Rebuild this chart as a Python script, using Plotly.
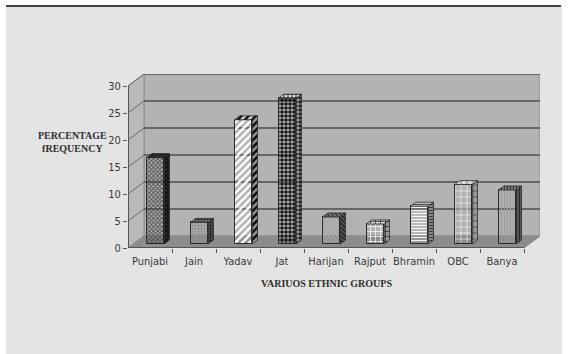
import plotly.graph_objects as go

# ---- data -------------------------------------------------------------
groups = ["Punjabi", "Jain", "Yadav", "Jat", "Harijan", "Rajput", "Bhramin", "OBC", "Banya"]
freq = [16, 4, 23, 27, 5, 3.7, 7, 11, 10]
y_ticks = [0, 5, 10, 15, 20, 25, 30]

# fill pattern per group: (shape, background, foreground, size, solidity)
patterns = [
    ("x", "#4a4a4a", "#111111", 3, 0.5),
    (".", "#8e8e8e", "#3c3c3c", 3, 0.5),
    ("/", "#ffffff", "#0c0c0c", 5, 0.5),
    (".", "#161616", "#ffffff", 4, 0.62),
    ("\\", "#a4a4a4", "#333333", 3, 0.5),
    ("+", "#ffffff", "#2c2c2c", 5, 0.25),
    ("-", "#f2f2f2", "#5c5c5c", 3, 0.4),
    ("+", "#ffffff", "#4a4a4a", 6, 0.18),
    ("|", "#9c9c9c", "#454545", 3, 0.45),
]

# ---- 3-D frame geometry (data units) ---------------------------------
n = len(groups)
x_lo, x_hi = -0.5, n - 0.5
y_top = y_ticks[-1]
DX, DY = 16 / 44, 12 / 5.4          # depth offset of the back wall
bar_w = 0.4
bx, by = DX / 3, DY / 3              # bar front sits one third into the depth

L, R, T, B = 128, 29, 74, 106
W = 569 - L - R
H = 354 - T - B


def px(xp):
    return (xp - L) / W


def py(yp):
    return (354 - B - yp) / H


def shade(hx, f):
    v = [int(hx[i:i + 2], 16) for i in (1, 3, 5)]
    v = [max(0, min(255, int(c * f))) for c in v]
    return "#%02x%02x%02x" % tuple(v)


fig = go.Figure()

# bar front faces
fig.add_trace(go.Bar(
    x=[i + bx for i in range(n)], y=freq, base=[by] * n, width=bar_w,
    marker=dict(
        color=[p[1] for p in patterns],
        line=dict(color="#2a2a2a", width=1),
        pattern=dict(
            shape=[p[0] for p in patterns],
            bgcolor=[p[1] for p in patterns],
            fgcolor=[p[2] for p in patterns],
            size=[p[3] for p in patterns],
            solidity=[p[4] for p in patterns],
            fillmode="replace",
        ),
    ),
    hoverinfo="skip", showlegend=False,
))

# bar side and top faces
for i, v in enumerate(freq):
    shp, bg, fg, sz, so = patterns[i]
    xl = i + bx - bar_w / 2
    xr = i + bx + bar_w / 2
    top = by + v
    side_x = [xr, xr + bx, xr + bx, xr, xr]
    side_y = [by, by + by, top + by, top, by]
    top_x = [xl, xr, xr + bx, xl + bx, xl]
    top_y = [top, top, top + by, top + by, top]
    for fx, fy, k in ((side_x, side_y, 0.6), (top_x, top_y, 0.85)):
        fig.add_trace(go.Scatter(
            x=fx, y=fy, mode="lines", fill="toself",
            fillcolor=shade(bg, k),
            fillpattern=dict(shape=shp, bgcolor=shade(bg, k), fgcolor=shade(fg, k),
                             size=sz, solidity=so, fillmode="replace"),
            line=dict(color="#2a2a2a", width=0.8),
            hoverinfo="skip", showlegend=False,
        ))

# walls, floor and gridlines
shapes = []
edge = "#8a8a8a"
grid = "#666666"
# back wall
shapes.append(dict(type="rect", xref="x", yref="y", x0=x_lo + DX, x1=x_hi + DX,
                   y0=DY, y1=y_top + DY, fillcolor="#b3b3b3",
                   line=dict(color="#a0a0a0", width=2), layer="below"))
# left wall
shapes.append(dict(type="path", xref="x", yref="y",
                   path=f"M{x_lo},0 L{x_lo},{y_top} L{x_lo + DX},{y_top + DY} L{x_lo + DX},{DY} Z",
                   fillcolor="#b9b9b9", line=dict(color=edge, width=1), layer="below"))
# floor
shapes.append(dict(type="path", xref="x", yref="y",
                   path=f"M{x_lo},0 L{x_hi},0 L{x_hi + DX},{DY} L{x_lo + DX},{DY} Z",
                   fillcolor="#8c8c8c", line=dict(color=edge, width=1), layer="below"))
for t in y_ticks[1:]:
    shapes.append(dict(type="line", xref="x", yref="y", x0=x_lo + DX, x1=x_hi + DX,
                       y0=t + DY, y1=t + DY, line=dict(color=grid, width=2), layer="below"))
    shapes.append(dict(type="line", xref="x", yref="y", x0=x_lo, x1=x_lo + DX,
                       y0=t, y1=t + DY, line=dict(color=grid, width=1), layer="below"))
# front axis lines
shapes.append(dict(type="line", xref="x", yref="y", x0=x_lo, x1=x_lo, y0=0, y1=y_top,
                   line=dict(color="#555555", width=2), layer="below"))
shapes.append(dict(type="line", xref="x", yref="y", x0=x_lo, x1=x_hi, y0=0, y1=0,
                   line=dict(color="#555555", width=2), layer="below"))

# grey panel behind the chart and its top rule
shapes.insert(0, dict(type="rect", xref="paper", yref="paper", x0=px(6), x1=px(562),
                      y0=py(354), y1=py(6), fillcolor="#e4e4e4", line=dict(width=0),
                      layer="below"))
shapes.append(dict(type="line", xref="paper", yref="paper", x0=px(6), x1=px(561),
                   y0=py(6), y1=py(6), line=dict(color="#444444", width=2)))

tick_font = dict(family="DejaVu Sans Condensed, Liberation Sans Narrow, Liberation Sans",
                 size=11, color="#3a3a3a")
title_font = dict(family="Liberation Serif, Times New Roman, serif", size=10, color="#2e2e2e")

fig.update_layout(
    width=569, height=354,
    margin=dict(l=L, r=R, t=T, b=B, pad=0),
    paper_bgcolor="white", plot_bgcolor="rgba(0,0,0,0)",
    shapes=shapes,
    bargap=0,
    xaxis=dict(range=[x_lo, x_hi + DX], tickvals=list(range(n)), ticktext=groups,
               ticks="", showgrid=False, zeroline=False, showline=False,
               tickfont=tick_font, ticklabelstandoff=5, fixedrange=True),
    xaxis2=dict(range=[x_lo, x_hi + DX], overlaying="x", side="bottom", anchor="y",
                tickvals=[i + 0.5 for i in range(n)], showticklabels=False,
                ticks="outside", ticklen=4, tickcolor="#555555", tickwidth=1,
                showgrid=False, zeroline=False, showline=False),
    yaxis=dict(range=[0, y_top + DY], tickvals=y_ticks, ticks="outside", ticklen=4,
               tickcolor="#555555", tickwidth=1, showgrid=False, zeroline=False,
               showline=False, tickfont=tick_font, fixedrange=True),
    annotations=[
        dict(text="<b>PERCENTAGE<br>fREQUENCY</b>", xref="paper", yref="paper",
             x=px(72), y=py(142), xanchor="center", yanchor="middle",
             showarrow=False, font=title_font, align="center"),
        dict(text="<b>VARIUOS ETHNIC GROUPS</b>", xref="paper", yref="paper",
             x=px(326), y=py(283), xanchor="center", yanchor="middle",
             showarrow=False, font=title_font),
    ],
)
# invisible point so the boundary tick axis is drawn
fig.add_trace(go.Scatter(x=[x_lo], y=[0], xaxis="x2", mode="markers",
                         marker=dict(opacity=0), hoverinfo="skip", showlegend=False))

fig.write_html("out.html")
